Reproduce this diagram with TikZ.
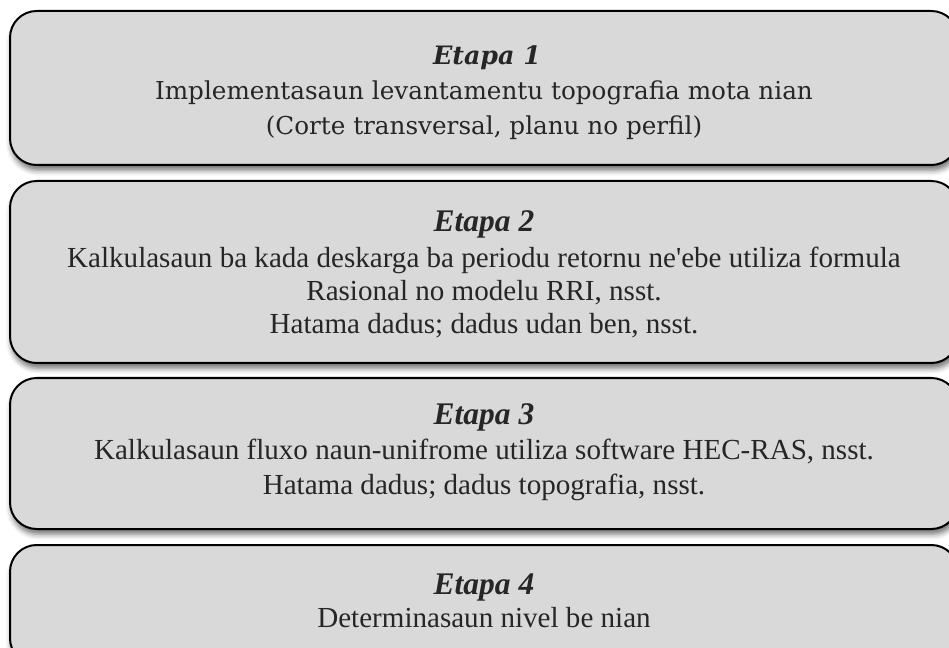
\documentclass[tikz,border=0pt]{standalone}
\usepackage{fontspec}
\setmainfont{Liberation Serif}
\newfontfamily\firstfont{DejaVu Serif}
\usetikzlibrary{shadows.blur}
\definecolor{boxgray}{HTML}{D9D9D9}
\definecolor{txtgray}{HTML}{262626}
\tikzset{
  etapa/.style={draw=black, line width=1.5pt, fill=boxgray, rounded corners=20pt,
    inner sep=0pt, minimum width=711pt,
    blur shadow={shadow xshift=1pt, shadow yshift=-4pt, shadow blur radius=4pt, shadow opacity=55}},
  head/.style={anchor=base, text=txtgray, font=\fontsize{23.6}{28}\selectfont\bfseries\itshape},
  headA/.style={anchor=base, text=txtgray, font=\firstfont\fontsize{19}{23}\selectfont\bfseries\itshape},
  body/.style={anchor=base, text=txtgray, font=\fontsize{21.8}{26}\selectfont},
  bodyA/.style={anchor=base, text=txtgray, font=\firstfont\fontsize{18.5}{23}\selectfont}
}

\begin{document}
\begin{tikzpicture}[x=0.75pt, y=-0.75pt]
        \useasboundingbox (0, 0) rectangle (949, 648);
        \node[etapa, minimum height=115.5pt] (B1) at (484, 88) {};
        \node[etapa, minimum height=136.5pt] (B2) at (484, 272) {};
        \node[etapa, minimum height=113.25pt] (B3) at (484, 453.5) {};
        \node[etapa, minimum height=90pt] (B4) at (484, 605) {};
        \node[headA] (H1) at (487, 65) {Etapa 1};
        \node[bodyA] (T1a) at (484, 100) {Implementasaun levantamentu topografia mota nian};
        \node[bodyA] (T1b) at (484, 135) {(Corte transversal, planu no perfil)};
        \node[head] (H2) at (484, 232) {Etapa 2};
        \node[body] (T2a) at (484, 268) {Kalkulasaun ba kada deskarga ba periodu retornu ne\textquotesingle ebe utiliza formula};
        \node[body] (T2b) at (484, 301) {Rasional no modelu RRI, nsst.};
        \node[body] (T2c) at (484, 334) {Hatama dadus; dadus udan ben, nsst.};
        \node[head] (H3) at (484, 424) {Etapa 3};
        \node[body] (T3a) at (484, 459) {Kalkulasaun fluxo naun-unifrome utiliza software HEC-RAS, nsst.};
        \node[body] (T3b) at (484, 494) {Hatama dadus; dadus topografia, nsst.};
        \node[head] (H4) at (484, 594) {Etapa 4};
        \node[body] (T4a) at (484, 627) {Determinasaun nivel be nian};
      \end{tikzpicture}
\end{document}
